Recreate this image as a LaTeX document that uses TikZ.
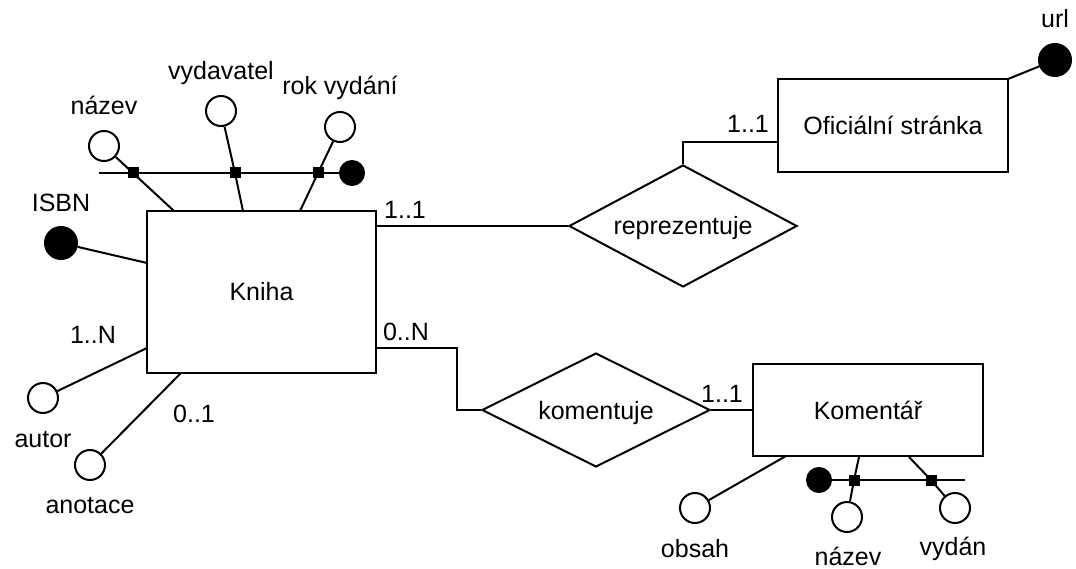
\documentclass[tikz,border=0pt]{standalone}
\usepackage{fontspec}
\setmainfont{Liberation Sans}
\usetikzlibrary{shapes.geometric,calc}
\tikzset{
  ent/.style={draw, rectangle, inner sep=0pt, text height=18pt, text depth=0pt},
  rel/.style={draw, diamond, inner sep=0pt, text height=18pt, text depth=0pt},
  attr/.style={draw, circle, fill=white, minimum size=30pt, inner sep=0pt},
  keyattr/.style={draw, circle, fill=black, inner sep=0pt},
  sqr/.style={fill=black, rectangle, minimum size=11pt, inner sep=0pt},
  lbl/.style={anchor=base, inner sep=0pt},
}
\begin{document}
\begin{tikzpicture}[x=1pt, y=-1pt, line width=2pt, font=\fontsize{25}{30}\selectfont]
\useasboundingbox (0,0) rectangle (1076,569);

% entities and relationships
\node[ent, minimum width=229pt, minimum height=162pt] (kniha) at (261.5,292) {Kniha};
\node[ent, minimum width=230pt, minimum height=93pt] (ofic) at (893,125.5) {Oficiální stránka};
\node[ent, minimum width=230pt, minimum height=92pt] (koment) at (868,410) {Komentář};
\node[rel, aspect=1.87, minimum width=228pt, minimum height=122pt] (rep) at (683,226) {reprezentuje};
\node[rel, aspect=2, minimum width=228pt, minimum height=114pt] (kom) at (596,410) {komentuje};

% relationship connectors
\coordinate (oficIn) at (778,142);
\coordinate (kOut2) at (376,348);
\draw (rep.west -| kniha.east) -- (rep.west);
\draw (rep.north) |- (oficIn);
\draw (kOut2) -| ([xshift=-24pt]kom.west) -- (kom.west);
\draw (kom.east) -- (koment.west);

% cardinalities
\node[lbl] (c1) at (405,219) {1..1};
\node[lbl] (c2) at (748,133) {1..1};
\node[lbl] (c3) at (406,341) {0..N};
\node[lbl] (c4) at (722,402) {1..1};
\node[lbl] (c5) at (93,343) {1..N};
\node[lbl] (c6) at (194,422) {0..1};

% Kniha attributes: connection points
\coordinate (kIsbn) at (147,263);
\coordinate (kAutor) at (147,348);
\coordinate (kAnot) at (181,373);
\coordinate (kT1) at (174,211);
\coordinate (kT2) at (243,211);
\coordinate (kT3) at (300,211);
\coordinate (barL) at (99,173);

\node[keyattr, minimum size=32pt] (isbn) at (61,243) {};
\node[attr] (autor) at (43,398) {};
\node[attr] (anot) at (90,465) {};
\node[attr] (nazev) at (104,146) {};
\node[attr] (vydav) at (221,111) {};
\node[attr] (rok) at (340,127) {};
\node[keyattr, minimum size=24pt] (bookkey) at (352,173) {};

\draw (kIsbn) -- (isbn);
\draw (kAutor) -- (autor);
\draw (kAnot) -- (anot);
\draw (barL) -- (bookkey);
\node[sqr] (sq1) at (133,173) {};
\node[sqr] (sq2) at (235,173) {};
\node[sqr] (sq3) at (318,173) {};
\draw (kT1) -- (sq1.center) -- (nazev);
\draw (kT2) -- (sq2.center) -- (vydav);
\draw (kT3) -- (sq3.center) -- (rok);
\node[sqr] at (sq1) {};
\node[sqr] at (sq2) {};
\node[sqr] at (sq3) {};

\node[lbl] (lIsbn) at (61,212) {ISBN};
\node[lbl] (lAutor) at (43,447) {autor};
\node[lbl] (lAnot) at (90,513) {anotace};
\node[lbl] (lNazev) at (104,115) {název};
\node[lbl] (lVydav) at (221,80) {vydavatel};
\node[lbl] (lRok) at (340,95) {rok vydání};

% Oficiální stránka attribute
\coordinate (oUrl) at (1008,79);
\node[keyattr, minimum size=32pt] (url) at (1055,60) {};
\draw (oUrl) -- (url);
\node[lbl] (lUrl) at (1055,28) {url};

% Komentář attributes
\coordinate (kmObs) at (786,456);
\coordinate (kmB1) at (859,457);
\coordinate (kmB2) at (909,457);
\coordinate (barR) at (965,480);
\node[attr] (obsah) at (695,508) {};
\node[attr] (nazev2) at (847,517) {};
\node[attr] (vydan) at (955,508) {};
\node[keyattr, minimum size=24pt] (komkey) at (819,480) {};
\draw (kmObs) -- (obsah);
\draw (komkey) -- (barR);
\node[sqr] (sq4) at (854,480) {};
\node[sqr] (sq5) at (931,480) {};
\draw (kmB1) -- (sq4.center) -- (nazev2);
\draw (kmB2) -- (sq5.center) -- (vydan);
\node[sqr] at (sq4) {};
\node[sqr] at (sq5) {};

\node[lbl] (lObsah) at (695,557) {obsah};
\node[lbl] (lNazev2) at (848,565) {název};
\node[lbl] (lVydan) at (953,555) {vydán};
\end{tikzpicture}
\end{document}
